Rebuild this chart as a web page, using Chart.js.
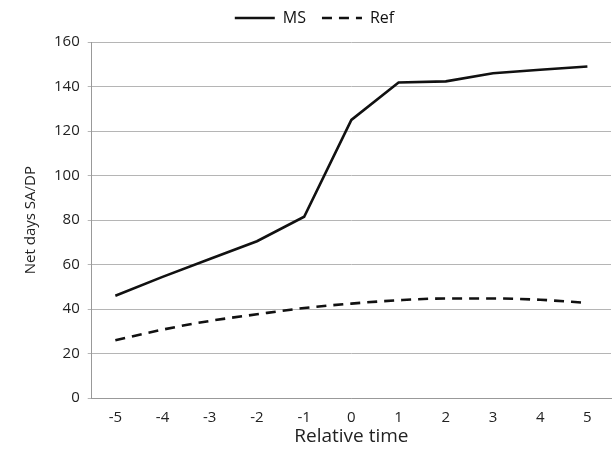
<!DOCTYPE html>
<html>
<head>
<meta charset="utf-8">
<script src="https://cdn.jsdelivr.net/npm/chart.js@4/dist/chart.umd.min.js"></script>
<style>
  html, body { margin: 0; padding: 0; background: #fff; }
  #wrap { width: 615px; height: 458px; }
</style>
</head>
<body>
<div id="wrap"><canvas id="chart"></canvas></div>
<script>
const relTime = ['-5', '-4', '-3', '-2', '-1', '0', '1', '2', '3', '4', '5'];
const msDays = [46, 54.5, 62.5, 70.5, 81.5, 125, 141.8, 142.3, 146, 147.5, 149];
const refDays = [26, 30.8, 34.7, 37.7, 40.5, 42.5, 44, 44.8, 44.8, 44.2, 42.8];

const font = "'Open Sans', 'DejaVu Sans', sans-serif";

// tweak the space under the legend
const legendGap = {
  id: 'legendGap',
  beforeInit(chart) {
    const fit = chart.legend.fit;
    chart.legend.fit = function () {
      fit.bind(chart.legend)();
      this.height += 6;
    };
  }
};

new Chart(document.getElementById('chart'), {
  type: 'line',
  data: {
    labels: relTime,
    datasets: [{
      label: 'MS',
      data: msDays,
      borderColor: '#111',
      borderWidth: 2.6,
      pointRadius: 0,
      tension: 0,
      pointStyle: 'line'
    }, {
      label: 'Ref',
      data: refDays,
      borderColor: '#111',
      borderWidth: 2.6,
      borderDash: [10, 7],
      pointRadius: 0,
      cubicInterpolationMode: 'monotone',
      pointStyle: 'line'
    }]
  },
  options: {
    responsive: true,
    maintainAspectRatio: false,
    animation: false,
    layout: { padding: { left: 18, right: 4, top: -6, bottom: 10 } },
    plugins: {
      legend: {
        position: 'top',
        labels: {
          usePointStyle: true,
          pointStyleWidth: 40,
          color: '#111',
          font: { family: font, size: 16 },
          padding: 16,
          generateLabels(chart) {
            return chart.data.datasets.map((ds, i) => ({
              text: ds.label,
              datasetIndex: i,
              strokeStyle: ds.borderColor,
              fillStyle: ds.borderColor,
              lineWidth: ds.borderWidth,
              lineDash: ds.borderDash || [],
              pointStyle: 'line',
              fontColor: '#111',
              hidden: false
            }));
          }
        }
      },
      tooltip: { enabled: false }
    },
    scales: {
      x: {
        offset: true,
        grid: { display: false, drawTicks: false },
        border: { color: '#999', width: 1 },
        ticks: { color: '#222', font: { family: font, size: 15 }, padding: 11 },
        title: { display: true, text: 'Relative time', color: '#222', font: { family: font, size: 19 }, padding: { top: -13, bottom: 0 } }
      },
      y: {
        min: 0,
        max: 160,
        ticks: { stepSize: 20, color: '#222', font: { family: font, size: 15 }, padding: 8 },
        grid: { color: '#b5b5b5', tickLength: 4 },
        border: { color: '#999', width: 1 },
        title: { display: true, text: 'Net days SA/DP', color: '#222', font: { family: font, size: 15 }, padding: { bottom: 6 } }
      }
    }
  },
  plugins: [legendGap]
});
</script>
</body>
</html>
